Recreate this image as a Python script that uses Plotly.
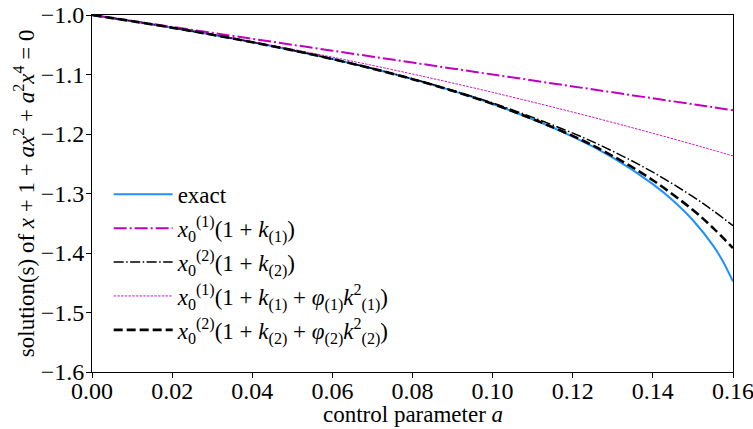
import plotly.graph_objects as go

# control parameter values
a_exact = [0.0, 0.02, 0.04, 0.06, 0.08, 0.10, 0.12, 0.13, 0.14, 0.145, 0.15, 0.155, 0.1575, 0.16]
exact = [-1.0, -1.0213, -1.0456, -1.0740, -1.1078, -1.1496, -1.2044, -1.2397, -1.2842,
         -1.3118, -1.3450, -1.3873, -1.4143, -1.4481]

a_approx = [0.0, 0.02, 0.04, 0.06, 0.08, 0.10, 0.12, 0.13, 0.14, 0.15, 0.155, 0.16]
first_1 = [-1.0, -1.020, -1.040, -1.060, -1.080, -1.100, -1.120, -1.130, -1.140, -1.150, -1.155, -1.160]
first_2 = [-1.0, -1.0213, -1.0456, -1.0739, -1.1073, -1.1479, -1.1985, -1.2290, -1.2642,
           -1.3053, -1.3286, -1.3542]
second_1 = [-1.0, -1.0212, -1.0448, -1.0708, -1.0992, -1.1300, -1.1632, -1.1807, -1.1988,
            -1.2175, -1.2271, -1.2368]
second_2 = [-1.0, -1.0213, -1.0457, -1.0740, -1.1078, -1.1494, -1.2032, -1.2371, -1.2777,
            -1.3278, -1.3577, -1.3918]

x_ticks = [0.0, 0.02, 0.04, 0.06, 0.08, 0.10, 0.12, 0.14, 0.16]
y_ticks = [-1.6, -1.5, -1.4, -1.3, -1.2, -1.1, -1.0]

x_title = "control parameter <i>a</i>"
y_title = "solution(s) of <i>x</i> + 1 + <i>ax</i><sup>2</sup> + <i>a</i><sup>2</sup><i>x</i><sup>4</sup> = 0"

names = [
    "exact",
    "<i>x</i><sub>0</sub><sup>(1)</sup>(1 + <i>k</i><sub>(1)</sub>)",
    "<i>x</i><sub>0</sub><sup>(2)</sup>(1 + <i>k</i><sub>(2)</sub>)",
    "<i>x</i><sub>0</sub><sup>(1)</sup>(1 + <i>k</i><sub>(1)</sub> + <i>φ</i><sub>(1)</sub><i>k</i><sup>2</sup><sub>(1)</sub>)",
    "<i>x</i><sub>0</sub><sup>(2)</sup>(1 + <i>k</i><sub>(2)</sub> + <i>φ</i><sub>(2)</sub><i>k</i><sup>2</sup><sub>(2)</sub>)",
]

FONT = "Liberation Serif"

fig = go.Figure()
fig.add_trace(go.Scatter(x=a_exact, y=exact, mode="lines", name=names[0], legendgroup="g0",
                         line=dict(color="#1E90FF", width=2, shape="spline")))
fig.add_trace(go.Scatter(x=a_approx, y=first_1, mode="lines", name=names[1], legendgroup="g1",
                         line=dict(color="#BF00BF", width=2, dash="13px,3px,2px,3px", shape="spline")))
fig.add_trace(go.Scatter(x=a_approx, y=first_2, mode="lines", name=names[2], legendgroup="g2",
                         line=dict(color="black", width=1.5, dash="10px,2.5px,1.5px,2.5px", shape="spline")))
fig.add_trace(go.Scatter(x=a_approx, y=second_1, mode="lines", name=names[3], legendgroup="g3",
                         line=dict(color="#BF00BF", width=0.9, dash="2.5px,1.2px", shape="spline")))
fig.add_trace(go.Scatter(x=a_approx, y=second_2, mode="lines", name=names[4], legendgroup="g4",
                         line=dict(color="black", width=2.6, dash="9px,4px", shape="spline")))

axis_common = dict(showline=True, linecolor="black", linewidth=1, mirror=True,
                   ticks="outside", ticklen=5, tickcolor="black", showgrid=False,
                   zeroline=False, automargin=False, ticklabeloverflow="allow",
                   tickfont=dict(family=FONT, size=24, color="black"))

fig.update_layout(
    width=753, height=429,
    margin=dict(l=92, r=20, t=15, b=57),
    paper_bgcolor="white", plot_bgcolor="white",
    font=dict(family=FONT, color="black", size=22),
    xaxis=dict(range=[-1e-7, 0.16 + 1e-7], tickvals=x_ticks, tickformat=".2f",
               ticklabelstandoff=-8, **axis_common),
    yaxis=dict(range=[-1.6 - 1e-6, -1.0 + 1e-6], tickvals=y_ticks, tickformat=".1f",
               ticklabelstandoff=-3, **axis_common),
    legend=dict(x=0.026, y=0.558, xanchor="left", yanchor="top",
                bgcolor="rgba(255,255,255,0)", borderwidth=0, itemwidth=59,
                font=dict(family=FONT, size=23), tracegroupgap=1),
    showlegend=True,
    annotations=[
        dict(text=x_title, xref="paper", yref="paper", x=0.5, y=-0.118,
             xanchor="center", yanchor="middle", showarrow=False,
             font=dict(family=FONT, size=23, color="black")),
        dict(text=y_title, xref="paper", yref="paper", x=-0.105, y=0.5,
             xanchor="center", yanchor="middle", showarrow=False, textangle=-90,
             font=dict(family=FONT, size=23, color="black")),
    ],
)

fig.write_html("out.html", config={"displayModeBar": False},
               post_script="document.body.style.margin='0';document.body.style.overflow='hidden';")
